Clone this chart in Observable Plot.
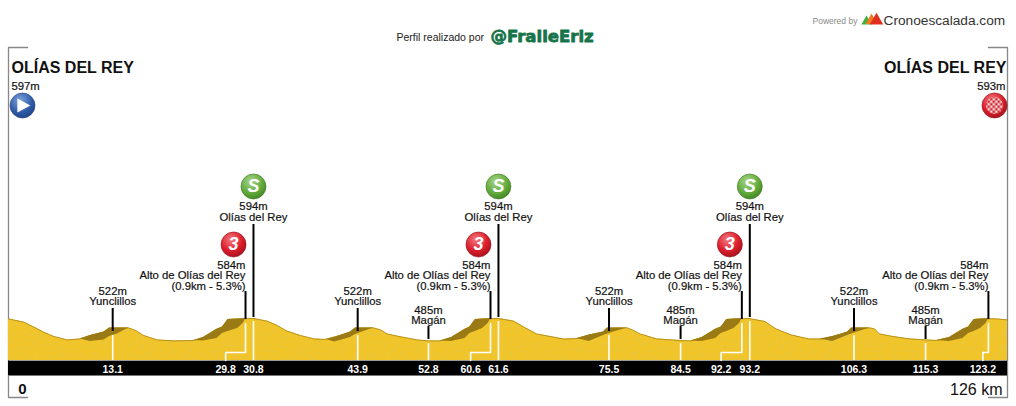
<!DOCTYPE html>
<html><head><meta charset="utf-8">
<script src="https://cdn.jsdelivr.net/npm/d3@7"></script>
<script src="https://cdn.jsdelivr.net/npm/@observablehq/plot@0.6"></script>
<style>html,body{margin:0;padding:0;background:#fff}svg{display:block}</style>
</head><body><div id="chart"></div>
<script>
const profileKm = [0,1.9,3.2,4.4,5.7,7.4,9,10.3,12,12.7,15.1,16,17,18.7,20.8,23.3,24.5,26.2,26.9,27.6,29.6,30.8,32.5,33.8,35,36.7,38.4,39.8,41.7,43,43.6,45.9,46.8,47.6,49.1,51.4,52.8,54.3,55.7,57.4,58,58.7,60.6,61.6,63.5,64.8,66.4,68.1,69.8,71.5,73.1,74.8,75.3,77.8,78.6,79.4,81.5,84.5,85.8,87.2,88.9,89.6,90.3,92.1,93.1,95.1,96.5,98.4,100.7,102.4,104.5,105.5,106,108.3,108.9,109.5,111.2,113.3,115.3,116.7,118.3,120,120.7,121.4,123.1,124.2,125.6];
const profileElev = [593,577,552,527,505,488,493,510,527,547,548,535,510,488,483,485,500,541,552,590,594,595,582,560,532,510,493,490,510,527,547,548,538,518,505,488,483,483,500,541,552,590,594,595,582,552,518,505,492,495,513,527,547,548,535,518,493,485,483,500,541,552,590,594,595,580,543,513,492,493,513,527,547,548,543,518,505,493,488,485,500,541,552,590,594,593,588];

const climbKm  = [[9,10.3,12,12.7,13.7,15.1],[23.3,24.5,26.2,26.9,27.6,28.8,29.5,29.8],[40,41,41.7,43,43.6,45.9],[54.3,55.7,57.4,58,58.7,59.6,60.3,60.6],[71.5,73,74.8,75.3,77.8],[85.8,87.2,88.9,89.6,90.3,91.2,91.9,92.2],[102,103.6,105.5,106,108.3],[116.7,118.3,120,120.7,121.4,122.2,122.9,123.2]];
const climbLow = [[493,480,488,505,518,548],[485,482,495,520,530,545,570,592],[490,478,485,500,515,548],[483,480,495,520,530,545,570,592],[495,480,510,518,548],[483,480,495,520,530,545,570,592],[492,480,510,518,548],[485,480,495,520,530,545,570,592]];
const climbTop = [[493,510,527,547,547,548],[485,500,541,552,590,592,594,594],[490,500,510,527,547,548],[483,500,541,552,590,592,594,594],[495,513,527,547,548],[483,500,541,552,590,592,594,594],[492,505,527,547,548],[485,500,541,552,590,592,594,594]];

const yunclillosKm = [13.1,43.9,75.5,106.3];
const maganKm = [52.8,84.5,115.3];
const sprintKm = [30.8,61.6,93.2];
const climbPointKm = [29.8,60.6,92.2,123.2];
const climbLabelKm = [27.3,58.1,89.6,122.5];
const climbIconKm = [29.8,60.6,92.2];

const yunclillosLabel = "522m\nYunclillos";
const maganLabel = "485m\nMagán";
const sprintLabel = "594m\nOlías del Rey";
const climbLabel = "584m\nAlto de Olías del Rey\n(0.9km - 5.3%)";
const startName = "OLÍAS DEL REY", startElev = "597m", finishElev = "593m";
const floorElev = 385, barBottom = 310, labelRow = 340;

const area = profileKm.map((km,i)=>({km,elev:profileElev[i]}));
const fmt = d=>String(d);
const INK = "#111";
const F = "Liberation Sans, Arial, sans-serif";
const lbl = {fontSize:11.3,fill:INK,stroke:INK,strokeWidth:.2,fontFamily:F};

const stems = (kms, top, bottom, whiteTop) => [
  Plot.ruleX(kms,{y1:top,y2:bottom,stroke:"#000",strokeWidth:2}),
  Plot.ruleX(kms,{y1:whiteTop,y2:floorElev,stroke:"#fff",strokeWidth:1.6})
];

const play = {draw(c,s){const r=Math.sqrt(s);c.moveTo(-r*.36,-r*.5);c.lineTo(r*.55,0);c.lineTo(-r*.36,r*.5);c.closePath();}};

const plot = Plot.plot({
  width:1016,height:406,marginLeft:8,marginRight:9,marginTop:0,marginBottom:0,
  style:{background:"#fff",fontFamily:F},
  x:{domain:[0,125.6],axis:null},
  y:{domain:[155,2185],axis:null},
  marks:[
    Plot.line([[123.2,1950],[125.6,1950],[125.6,200],[123.2,200]],{x:"0",y:"1",stroke:"#888",strokeWidth:1.3}),
    Plot.line([[2.4,1950],[0,1950],[0,200],[2.4,200]],{x:"0",y:"1",stroke:"#888",strokeWidth:1.3}),
    Plot.areaY(area,{x:"km",y1:floorElev,y2:"elev",fill:"#f3c426"}),
    Plot.line(area,{x:"km",y:"elev",stroke:"#a8841a",strokeWidth:.8}),
    ...climbKm.map((k,i)=>Plot.areaY(k.map((km,j)=>({km,lo:climbLow[i][j],hi:climbTop[i][j]})),{x:"km",y1:"lo",y2:"hi",fill:"#9a7a14"})),
    Plot.rect([0],{x1:0,x2:125.6,y1:barBottom,y2:floorElev-3,fill:"#000"}),
    Plot.ruleY([barBottom],{x1:0,x2:125.6,stroke:"#777",strokeWidth:1}),
    ...stems(yunclillosKm,645,530,510),
    ...stems(maganKm,555,490,470),
    ...stems(sprintKm,1065,600,580),
    Plot.ruleX(climbPointKm,{y1:730,y2:590,stroke:"#000",strokeWidth:2}),
    ...climbPointKm.map((k,i)=>Plot.line([[k,570],[k,425],[climbLabelKm[i],425],[climbLabelKm[i],floorElev]],{x:"0",y:"1",stroke:"#fff",strokeWidth:1.6})),
    Plot.text(yunclillosKm,{x:d=>d,y:645,text:()=>yunclillosLabel,lineAnchor:"bottom",dy:-4,lineHeight:.88,...lbl}),
    Plot.text(maganKm,{x:d=>d,y:555,text:()=>maganLabel,lineAnchor:"bottom",dy:-3,lineHeight:.88,...lbl}),
    Plot.text(sprintKm,{x:d=>d,y:1065,text:()=>sprintLabel,lineAnchor:"bottom",dy:-4,lineHeight:.93,...lbl}),
    Plot.text(climbPointKm,{x:d=>d,y:730,text:()=>climbLabel,lineAnchor:"bottom",textAnchor:"end",dy:-2,lineHeight:.92,...lbl}),
    Plot.text([...yunclillosKm,...maganKm,...sprintKm],{x:d=>d,y:labelRow,text:fmt,fill:"#fff",fontSize:10.5,fontWeight:"bold",fontFamily:F}),
    Plot.text(climbPointKm,{x:(d,i)=>climbLabelKm[i],y:labelRow,text:fmt,fill:"#fff",fontSize:10.5,fontWeight:"bold",fontFamily:F}),
    Plot.text(["0"],{x:0,y:240,text:d=>d,dx:14,fontSize:15,fontWeight:"bold",fill:"#111",fontFamily:F}),
    Plot.text(["126 km"],{x:125.6,y:240,text:d=>d,dx:-5,textAnchor:"end",fontSize:16,fill:"#111",fontFamily:F}),
    Plot.text([startName],{x:0,y:1850,text:d=>d,dx:3,textAnchor:"start",fontSize:16,fontWeight:"bold",fill:"#111",fontFamily:F}),
    Plot.text([startName],{x:125.6,y:1850,text:d=>d,dx:-1,textAnchor:"end",fontSize:16,fontWeight:"bold",fill:"#111",fontFamily:F}),
    Plot.text([startElev],{x:0,y:1755,text:d=>d,dx:3,textAnchor:"start",...lbl}),
    Plot.text([finishElev],{x:125.6,y:1755,text:d=>d,dx:-2,textAnchor:"end",...lbl}),
    Plot.dot([0],{x:d=>d,y:1660,dx:14,r:12.5,fill:"url(#gBlue)",stroke:"#1d3d7c",strokeWidth:.6}),
    Plot.dot([0],{x:d=>d,y:1660,dx:14,r:8,symbol:play,fill:"#fff"}),
    Plot.dot([125.6],{x:d=>d,y:1660,dx:-13,r:12.5,fill:"url(#gRed)",stroke:"#8c0c14",strokeWidth:.6}),
    Plot.dot([125.6],{x:d=>d,y:1660,dx:-13,r:8.5,fill:"url(#checks)"}),
    Plot.dot(sprintKm,{x:d=>d,y:1255,r:12.5,fill:"url(#gGreen)",stroke:"#3f7a22",strokeWidth:.6}),
    Plot.text(sprintKm,{x:d=>d,y:1255,text:()=>"S",fill:"#fff",fontSize:18,fontWeight:"bold",fontStyle:"italic",fontFamily:F}),
    Plot.dot(climbIconKm,{x:d=>d,y:965,dx:-12,r:12.5,fill:"url(#gRed)",stroke:"#8c0c14",strokeWidth:.6}),
    Plot.text(climbIconKm,{x:d=>d,y:965,dx:-12,text:()=>"3",fill:"#fff",fontSize:18,fontWeight:"bold",fontStyle:"italic",fontFamily:F}),
    Plot.text(["Perfil realizado por"],{frameAnchor:"top-left",dx:388,dy:33,text:d=>d,textAnchor:"start",fontSize:10.5,fill:"#222",fontFamily:F}),
    Plot.text(["@FraileEriz"],{frameAnchor:"top-left",dx:482,dy:30,text:d=>d,textAnchor:"start",fontSize:16.5,fontWeight:"bold",fill:"#17744a",stroke:"#17744a",strokeWidth:.8,fontFamily:"DejaVu Sans, sans-serif"}),
    Plot.text(["Powered by"],{frameAnchor:"top-left",dx:804,dy:17,text:d=>d,textAnchor:"start",fontSize:8.5,fill:"#888",fontFamily:F}),
    Plot.text(["Cronoescalada.com"],{frameAnchor:"top-left",dx:875,dy:15,text:d=>d,textAnchor:"start",fontSize:13.7,fill:"#333",fontFamily:F}),
    Plot.dot([0],{frameAnchor:"top-left",dx:858,dy:21,r:3.8,symbol:"triangle",fill:"#3fae3b"}),
    Plot.dot([0],{frameAnchor:"top-left",dx:863,dy:20,r:4.5,symbol:"triangle",fill:"#ef7a22"}),
    Plot.dot([0],{frameAnchor:"top-left",dx:868,dy:20,r:5,symbol:"triangle",fill:"#e2301f"})
  ]
});

const defs = `
<radialGradient id="gBlue" cx=".4" cy=".3" r=".8"><stop offset="0" stop-color="#7ea4dc"/><stop offset=".6" stop-color="#2f5aa8"/><stop offset="1" stop-color="#1d3d7c"/></radialGradient>
<radialGradient id="gRed" cx=".4" cy=".3" r=".8"><stop offset="0" stop-color="#f47a80"/><stop offset=".55" stop-color="#dc1f2c"/><stop offset="1" stop-color="#9a0e18"/></radialGradient>
<radialGradient id="gGreen" cx=".4" cy=".3" r=".8"><stop offset="0" stop-color="#a9d68a"/><stop offset=".6" stop-color="#5fa83a"/><stop offset="1" stop-color="#3f7a22"/></radialGradient>
<pattern id="checks" width="5" height="5" patternUnits="userSpaceOnUse"><rect width="5" height="5" fill="#f8dcdc"/><rect width="2.5" height="2.5" fill="#d0242e"/><rect x="2.5" y="2.5" width="2.5" height="2.5" fill="#d0242e"/></pattern>
<filter id="grain" x="0" y="0" width="100%" height="100%">
  <feTurbulence type="fractalNoise" baseFrequency=".4 .55" numOctaves="2" seed="4" result="n"/>
  <feColorMatrix in="n" type="matrix" values="0 0 0 0 .80  0 0 0 0 .57  0 0 0 0 .05  3.4 3.4 0 0 -3.3" result="spots"/>
  <feComposite in="spots" in2="SourceAlpha" operator="in" result="c"/>
  <feMerge><feMergeNode in="SourceGraphic"/><feMergeNode in="c"/></feMerge>
</filter>`;
const d = d3.select(plot).insert("defs",":first-child");
d.html(defs);
d3.select(plot).selectAll('[fill="#f3c426"]').attr("filter","url(#grain)");
document.getElementById("chart").append(plot);
</script></body></html>
